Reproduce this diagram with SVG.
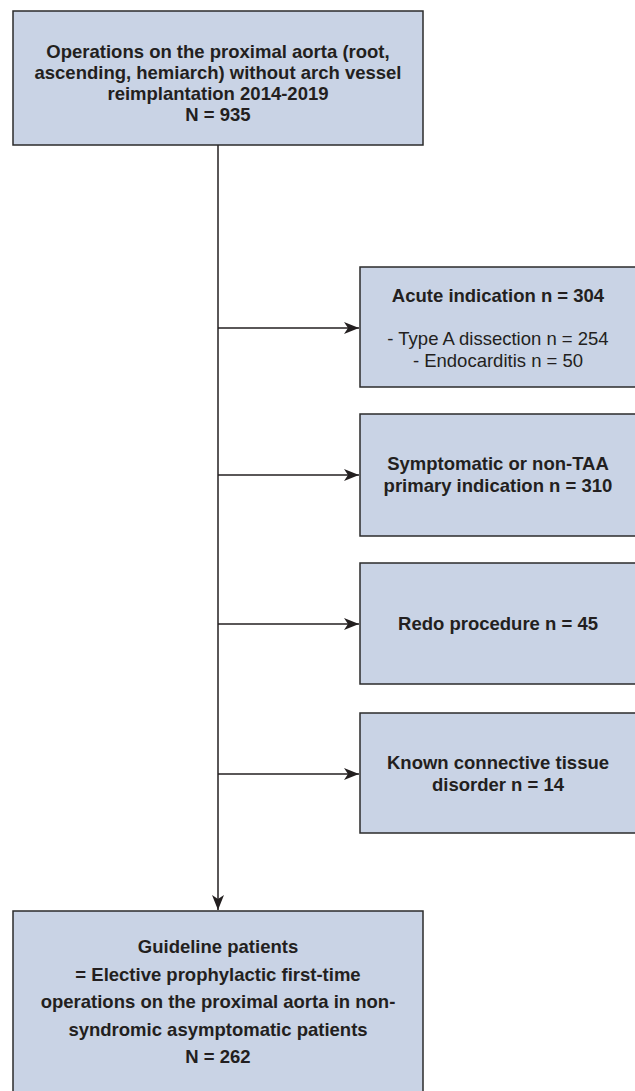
<svg xmlns="http://www.w3.org/2000/svg" width="635" height="1091" viewBox="0 0 635 1091">
<style>
.box{fill:#c9d3e5;stroke:#2b2b2b;stroke-width:1.5}
.t{font-family:"Liberation Sans",Arial,sans-serif;font-size:18.5px;fill:#231f20;text-anchor:middle}
.b{font-weight:bold}
.ln{stroke:#231f20;stroke-width:1.5;fill:none}
</style>
<defs>
<marker id="ah" markerWidth="16" markerHeight="12" refX="15" refY="6" orient="auto" markerUnits="userSpaceOnUse">
<path d="M0,0 L15,6 L0,12 L4,6 Z" fill="#231f20"/>
</marker>
</defs>
<rect width="635" height="1091" fill="#fff"/>
<g id="connectors">
<line class="ln" x1="218" y1="145" x2="218" y2="910" marker-end="url(#ah)"/>
<line class="ln" x1="218" y1="328" x2="359" y2="328" marker-end="url(#ah)"/>
<line class="ln" x1="218" y1="475" x2="359" y2="475" marker-end="url(#ah)"/>
<line class="ln" x1="218" y1="624" x2="359" y2="624" marker-end="url(#ah)"/>
<line class="ln" x1="218" y1="774" x2="359" y2="774" marker-end="url(#ah)"/>
</g>
<g id="top">
<rect class="box" x="13" y="11" width="410" height="134"/>
<text class="t b" x="218" y="58">Operations on the proximal aorta (root,</text>
<text class="t b" x="218" y="79">ascending, hemiarch) without arch vessel</text>
<text class="t b" x="218" y="100">reimplantation 2014-2019</text>
<text class="t b" x="218" y="121">N = 935</text>
</g>
<g id="acute">
<rect class="box" x="360" y="267" width="278" height="120"/>
<text class="t b" x="498" y="302">Acute indication n = 304</text>
<text class="t" x="498" y="345">- Type A dissection n = 254</text>
<text class="t" x="498" y="367">- Endocarditis n = 50</text>
</g>
<g id="symptomatic">
<rect class="box" x="360" y="414" width="278" height="122"/>
<text class="t b" x="498" y="470">Symptomatic or non-TAA</text>
<text class="t b" x="498" y="492">primary indication n = 310</text>
</g>
<g id="redo">
<rect class="box" x="360" y="563" width="278" height="121"/>
<text class="t b" x="498" y="630">Redo procedure n = 45</text>
</g>
<g id="known">
<rect class="box" x="360" y="713" width="278" height="120"/>
<text class="t b" x="498" y="769">Known connective tissue</text>
<text class="t b" x="498" y="791">disorder n = 14</text>
</g>
<g id="guideline">
<rect class="box" x="13" y="911" width="410" height="185"/>
<text class="t b" x="218" y="953">Guideline patients</text>
<text class="t b" x="218" y="981">= Elective prophylactic first-time</text>
<text class="t b" x="218" y="1008">operations on the proximal aorta in non-</text>
<text class="t b" x="218" y="1036">syndromic asymptomatic patients</text>
<text class="t b" x="218" y="1063">N = 262</text>
</g>
</svg>
